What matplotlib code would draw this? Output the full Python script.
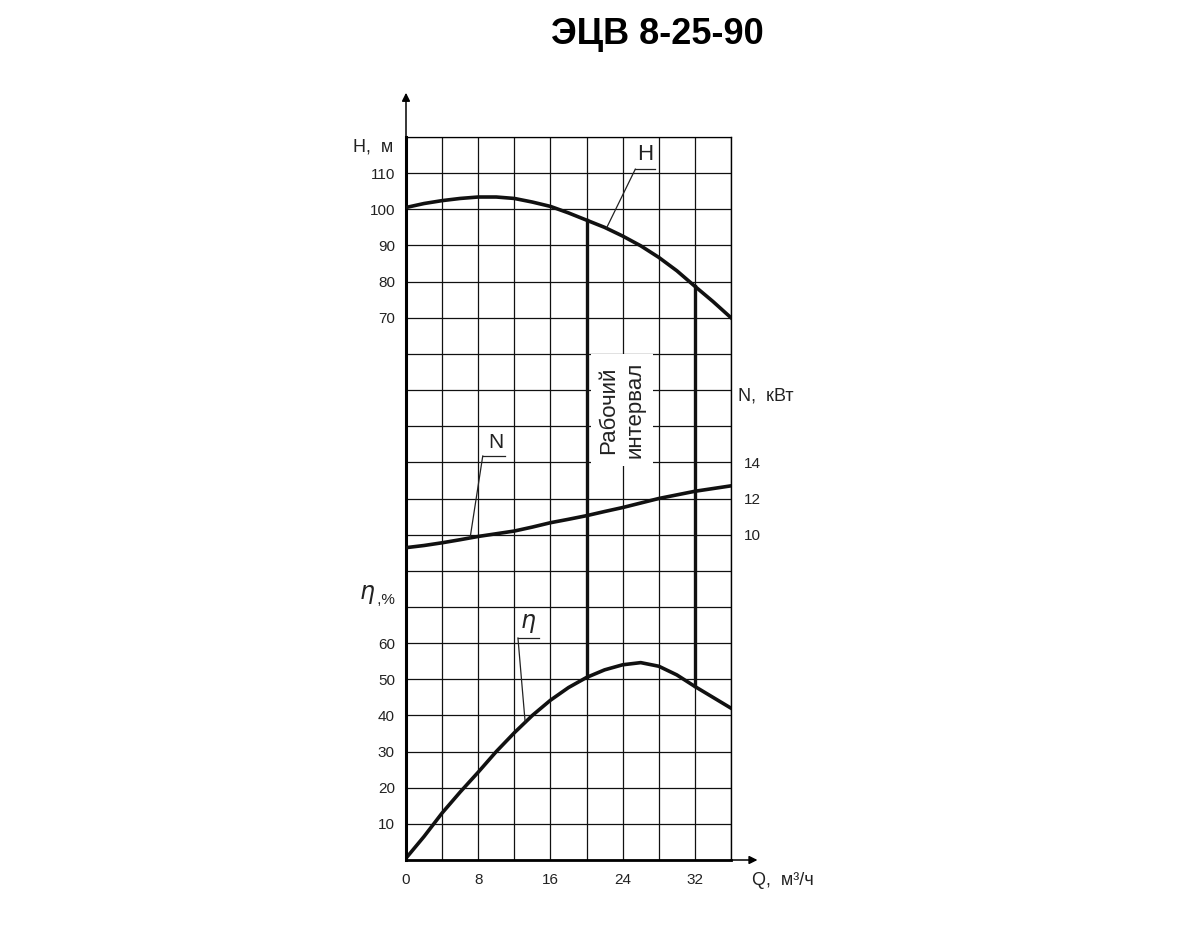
import matplotlib
matplotlib.use('Agg')
import matplotlib.pyplot as plt
import numpy as np

plt.rcParams['font.family'] = ['Liberation Sans', 'DejaVu Sans']

# data
q = [0, 2, 4, 6, 8, 10, 12, 14, 16, 18, 20, 22, 24, 26, 28, 30, 32, 34, 36]
head = [100.5, 101.6, 102.4, 103.0, 103.4, 103.4, 103.0, 102.0, 100.8, 99.0,
        97.0, 95.0, 92.6, 89.9, 86.7, 83.0, 78.7, 74.5, 70.0]
power = [9.28, 9.4, 9.55, 9.72, 9.9, 10.05, 10.2, 10.42, 10.66, 10.85,
         11.05, 11.28, 11.5, 11.75, 12.0, 12.2, 12.4, 12.55, 12.7]
eff = [0.5, 6.5, 13.0, 18.8, 24.3, 30.0, 35.2, 40.0, 44.2, 47.7,
       50.5, 52.6, 54.0, 54.6, 53.6, 51.2, 48.0, 45.0, 42.0]
work_q = [20, 32]

q_ticks = [0, 8, 16, 24, 32]
h_ticks = [70, 80, 90, 100, 110]
n_ticks = [10, 12, 14]
eff_ticks = [10, 20, 30, 40, 50, 60]

fig = plt.figure(figsize=(12, 9.5), dpi=100)
ax = fig.add_axes([406/1200, 90/950, 325/1200, 723/950])
ax.set_xlim(0, 36)
ax.set_ylim(0, 200)

axH = ax.twinx()
axH.set_ylim(-80, 120)
axN = ax.twinx()
axN.set_ylim(-8, 32)

# grid
xt = np.arange(0, 37, 4)
ax.set_xticks(xt)
ax.set_xticklabels([str(v) if v in q_ticks else '' for v in xt])
yt = np.arange(0, 201, 10)
ax.set_yticks(yt)
ax.set_yticklabels([str(v) if v in eff_ticks else '' for v in yt])
ax.grid(True, color='#111111', lw=0.9)
ax.set_axisbelow(True)
ax.tick_params(length=0, labelsize=11, colors='#222222')
ax.tick_params(axis='y', pad=8)
ax.tick_params(axis='x', pad=9)

axH.set_yticks(h_ticks)
axH.tick_params(axis='y', left=False, right=False, labelleft=True, labelright=False,
                length=0, labelsize=11, colors='#222222', pad=8)
axN.set_yticks(n_ticks)
axN.tick_params(axis='y', length=0, labelsize=11, colors='#222222', pad=9)

for a in (axH, axN):
    for s in a.spines.values():
        s.set_visible(False)
ax.spines['left'].set_linewidth(2.2)
ax.spines['bottom'].set_linewidth(2.0)
ax.spines['top'].set_linewidth(0.9)
ax.spines['right'].set_linewidth(1.0)

# axis arrows
ax.annotate('', xy=(0, 1.065), xytext=(0, 0.99), xycoords='axes fraction',
            arrowprops=dict(arrowstyle='-|>', lw=1.1, color='k', mutation_scale=12))
ax.annotate('', xy=(1.09, 0), xytext=(0.99, 0), xycoords='axes fraction',
            arrowprops=dict(arrowstyle='-|>', lw=1.1, color='k', mutation_scale=12))

# curves
axH.plot(q, head, color='#111111', lw=2.6, solid_joinstyle='round')
axN.plot(q, power, color='#111111', lw=2.6, solid_joinstyle='round')
ax.plot(q, eff, color='#111111', lw=2.6, solid_joinstyle='round')

# working interval
for qw in work_q:
    h = np.interp(qw, q, head)
    e = np.interp(qw, q, eff)
    y_top = ax.transData.inverted().transform(axH.transData.transform((qw, h)))[1]
    ax.plot([qw, qw], [e, y_top], color='#111111', lw=2.4, zorder=4)

ax.text(23.9, 124.5, 'Рабочий\nинтервал', rotation=90, ha='center', va='center',
        fontsize=16, linespacing=1.3, color='#222222', zorder=3,
        bbox=dict(boxstyle='square,pad=0.35', fc='white', ec='none'))

# curve labels with leaders
axH.text(26.5, 115.2, 'H', fontsize=16, ha='center', va='center', color='#222222')
axH.plot([25.4, 27.6], [111.1, 111.1], color='#222222', lw=0.9)
axH.plot([25.4, 22.2], [111.1, np.interp(22.2, q, head)], color='#222222', lw=0.9)

axN.text(9.9, 15.1, 'N', fontsize=15, ha='center', va='center', color='#222222')
axN.plot([8.5, 11.0], [14.35, 14.35], color='#222222', lw=0.9)
axN.plot([8.5, 7.1], [14.35, np.interp(7.1, q, power)], color='#222222', lw=0.9)

ax.text(13.5, 65.5, r'$\eta$', fontsize=17, ha='center', va='center', color='#222222')
ax.plot([12.4, 14.7], [61.4, 61.4], color='#222222', lw=0.9)
ax.plot([12.4, 13.2], [61.4, np.interp(13.2, q, eff)], color='#222222', lw=0.9)

# axis titles
axH.text(-0.04, 117.3, 'H,  м', transform=axH.get_yaxis_transform(),
         ha='right', va='center', fontsize=13, color='#222222')
ax.text(-0.12, 73.5, r'$\eta$', transform=ax.get_yaxis_transform(),
        ha='center', va='center', fontsize=17, color='#222222')
ax.text(-0.035, 72.0, ' ,%', transform=ax.get_yaxis_transform(),
        ha='right', va='center', fontsize=11, color='#222222')
axN.text(1.02, 17.66, 'N,  кВт', transform=axN.get_yaxis_transform(),
         ha='left', va='center', fontsize=13, color='#222222')
ax.text(1.065, -0.028, 'Q,  м³/ч', transform=ax.transAxes,
        ha='left', va='center', fontsize=13, color='#222222')

fig.text(657/1200, 1 - 34/950, 'ЭЦВ 8-25-90', fontsize=26, fontweight='bold',
         ha='center', va='center')

fig.savefig('out.png', dpi=100, facecolor='white')
